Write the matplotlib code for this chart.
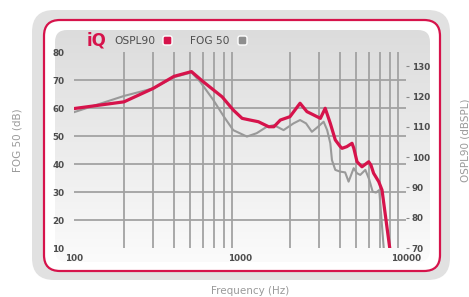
import numpy as np
import matplotlib
matplotlib.use('Agg')
import matplotlib.pyplot as plt
from matplotlib.patches import FancyBboxPatch
from matplotlib.colors import LinearSegmentedColormap

# OSPL90 curve (right axis, drawn on left dB scale as in the original)
ospl_freq = [100, 200, 300, 400, 510, 600, 780, 910, 1030, 1150, 1290, 1490, 1600,
             1750, 2000, 2300, 2530, 2780, 3050, 3260, 3500, 3750, 4020, 4120, 4400,
             4730, 4850, 5070, 5430, 5960, 6150, 6380, 6850, 7170, 7980]
ospl_db = [59.8, 62.2, 67.0, 71.3, 73.0, 69.4, 64.0, 59.3, 56.3, 55.7, 55.1, 53.3, 53.3,
           55.7, 56.9, 61.7, 58.7, 57.5, 56.3, 59.9, 54.5, 48.6, 46.2, 45.6, 46.2,
           47.4, 45.6, 40.8, 39.0, 40.8, 39.6, 36.7, 33.7, 30.7, 10.0]

# FOG 50 curve
fog_freq = [100, 200, 300, 400, 510, 575, 690, 800, 910, 1100, 1260, 1450, 1600, 1830,
            2100, 2300, 2500, 2710, 2950, 3190, 3350, 3500, 3580, 3750, 4000, 4300,
            4510, 4840, 5070, 5300, 5690, 6000, 6300, 6600, 6900, 7340]
fog_db = [58.5, 64.3, 67.0, 71.0, 72.7, 69.4, 62.9, 56.9, 52.1, 49.8, 51.0, 53.3, 53.9, 52.1,
          54.5, 55.7, 54.5, 51.5, 53.3, 55.1, 52.1, 47.4, 41.4, 37.9, 37.3, 37.0,
          33.7, 38.5, 36.7, 36.1, 37.9, 34.5, 30.1, 29.8, 30.7, 10.0]

left_ticks = [10, 20, 30, 40, 50, 60, 70, 80]
right_ticks = [70, 80, 90, 100, 110, 120, 130]
x_ticks = [100, 1000, 10000]
h_grid = [20, 30, 40, 50, 60, 70]
v_grid = [200, 300, 400, 500, 600, 700, 800, 900,
          2000, 3000, 4000, 5000, 6000, 7000, 8000, 9000]

RED = '#d6134b'
GREY = '#999999'
GRID = '#a2a2a2'
TXT = '#4d4d4d'

W, H = 469, 297
fig = plt.figure(figsize=(W / 100, H / 100), dpi=100)

# background frames, in pixel coordinates
bg = fig.add_axes([0, 0, 1, 1])
bg.set_xlim(0, W)
bg.set_ylim(H, 0)
bg.axis('off')

bg.add_patch(FancyBboxPatch((32, 10), 418, 270, boxstyle='round,pad=0,rounding_size=22',
                            fc='#e1e1e1', ec='none'))
bg.add_patch(FancyBboxPatch((44, 20), 396, 251, boxstyle='round,pad=0,rounding_size=16',
                            fc='white', ec=RED, lw=1.6))
panel = FancyBboxPatch((55, 30), 375, 232, boxstyle='round,pad=0,rounding_size=12',
                       fc='none', ec='none')
bg.add_patch(panel)
grad = np.linspace(0, 1, 256).reshape(-1, 1)
cmap = LinearSegmentedColormap.from_list('g', ['#dcdcdc', '#fbfbfb'])
img = bg.imshow(grad, extent=(55, 430, 262, 30), cmap=cmap, aspect='auto', zorder=1)
img.set_clip_path(panel)

# legend
bg.text(87, 41, 'iQ', color=RED, fontsize=12, fontweight='bold', va='center', ha='left')
bg.text(114, 41, 'OSPL90', color=TXT, fontsize=7.7, va='center', ha='left')
bg.add_patch(FancyBboxPatch((163, 36), 9, 9, boxstyle='round,pad=0,rounding_size=2',
                            fc=RED, ec='white', lw=1))
bg.text(190, 41, 'FOG 50', color=TXT, fontsize=7.7, va='center', ha='left')
bg.add_patch(FancyBboxPatch((238, 36), 9, 9, boxstyle='round,pad=0,rounding_size=2',
                            fc='#8e8e8e', ec='white', lw=1))

# axis titles
bg.text(18, 140, 'FOG 50 (dB)', color='#9a9a9a', fontsize=7.5, rotation=90,
        va='center', ha='center')
bg.text(465, 140, 'OSPL90 (dBSPL)', color='#9a9a9a', fontsize=7.5, rotation=90,
        va='center', ha='center')
bg.text(250, 291, 'Frequency (Hz)', color='#9a9a9a', fontsize=7.5, va='center', ha='center')

# main chart
ax = fig.add_axes([74 / W, 1 - 248 / H, 332 / W, 196 / H])
ax.patch.set_alpha(0)
ax.set_xscale('log')
ax.set_xlim(100, 10000)
ax.set_ylim(10, 80)
for s in ax.spines.values():
    s.set_visible(False)

ax.hlines(h_grid, 100, 10000, color=GRID, lw=1.3, zorder=1)
ax.vlines(v_grid, 10, 80, color=GRID, lw=1.3, zorder=1)

ax.plot(fog_freq, fog_db, color=GREY, lw=1.5, zorder=3, solid_joinstyle='round')
ax.plot(ospl_freq, ospl_db, color=RED, lw=2.3, zorder=4, solid_joinstyle='round')

ax.set_yticks(left_ticks)
ax.set_yticklabels([str(v) for v in left_ticks], fontweight='bold')
ax.minorticks_off()
ax.set_xticks(x_ticks)
ax.set_xticklabels([str(v) for v in x_ticks], fontweight='bold')
ax.tick_params(axis='y', length=0, pad=7, labelsize=6.3, labelcolor=TXT)
ax.tick_params(axis='x', length=0, pad=4, labelsize=6.3, labelcolor=TXT)

ax2 = ax.twinx()
ax2.set_ylim(70, 134.7)
for s in ax2.spines.values():
    s.set_visible(False)
ax2.set_yticks(right_ticks)
ax2.set_yticklabels([str(v) for v in right_ticks], fontweight='bold')
ax2.tick_params(axis='y', length=2.2, width=0.8, color='#888888', pad=2,
                labelsize=6.3, labelcolor=TXT)

fig.savefig('out.png', dpi=100)
